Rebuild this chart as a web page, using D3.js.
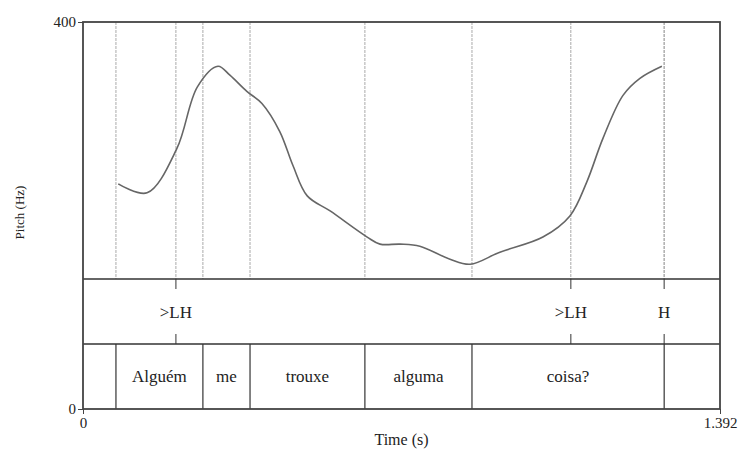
<!DOCTYPE html>
<html><head><meta charset="utf-8">
<script src="https://cdn.jsdelivr.net/npm/d3@7"></script>
<style>body{margin:0;background:#fff}svg{display:block}</style>
</head><body><svg id="c" width="745" height="453"></svg>
<script>
const totalDuration = 1.392;
const pitchRange = [0, 400];
// pitch contour (time s, Hz)
const pitchTimes = [0.077,0.140,0.205,0.250,0.295,0.321,0.358,0.391,0.430,0.459,0.490,0.540,0.621,0.649,0.693,0.736,0.802,0.846,0.911,1.005,1.064,1.101,1.136,1.180,1.217,1.265];
const pitchHz =    [232.7,223.4,269.1,333.0,354.3,345.0,328.3,315.8,286.8,251.4,220.3,204.7,177.7,170.4,170.4,168.3,154.8,149.6,162.1,177.7,199.5,234.8,279.5,324.2,341.8,354.3];
// tone tier points
const tonePointTimes = [0.203, 1.066, 1.270];
const toneLabels = [">LH", ">LH", "H"];
// word tier intervals
const wordBoundaries = [0, 0.072, 0.262, 0.365, 0.616, 0.850, 1.270, 1.392];
const wordLabels = ["", "Alguém", "me", "trouxe", "alguma", "coisa?", ""];

const FONT = "'Liberation Serif', 'DejaVu Serif', 'Times New Roman', serif";
const svg = d3.select("#c").attr("font-family", FONT);
const L = 83, R = 720, T = 22, B = 409;
const tier1Top = 279, tier2Top = 344;
const x = d3.scaleLinear().domain([0,totalDuration]).range([L,R]);
const y = d3.scaleLinear().domain(pitchRange).range([B,T]);

// dotted lines in pitch panel
const allMarks = wordBoundaries.slice(1,-1).concat(tonePointTimes);
svg.append("g").selectAll("line").data(allMarks).join("line")
  .attr("x1",d=>x(d)).attr("x2",d=>x(d)).attr("y1",T).attr("y2",tier1Top)
  .attr("stroke","#aaa").attr("stroke-width",1).attr("stroke-dasharray","3,1");

// pitch curve
const pts = pitchTimes.map((t,i)=>[t,pitchHz[i]]);
svg.append("path").datum(pts)
  .attr("d", d3.line().x(d=>x(d[0])).y(d=>y(d[1])).curve(d3.curveCatmullRom.alpha(0.5)))
  .attr("fill","none").attr("stroke","#666").attr("stroke-width",1.6);

// word tier boundaries
svg.append("g").selectAll("line").data(wordBoundaries.slice(1,-1)).join("line")
  .attr("x1",d=>x(d)).attr("x2",d=>x(d)).attr("y1",tier2Top).attr("y2",B)
  .attr("stroke","#333").attr("stroke-width",1.2);
// word labels
svg.append("g").selectAll("text").data(wordLabels.map((l,i)=>({l, m:(wordBoundaries[i]+wordBoundaries[i+1])/2}))).join("text")
  .attr("x",d=>x(d.m)).attr("y",(tier2Top+B)/2+5).attr("text-anchor","middle")
  .attr("font-family",FONT).attr("font-size",17).attr("fill","#222").text(d=>d.l);

// tone tier point ticks
const tg = svg.append("g");
tonePointTimes.forEach(t=>{
  tg.append("line").attr("x1",x(t)).attr("x2",x(t)).attr("y1",tier1Top).attr("y2",tier1Top+10).attr("stroke","#555").attr("stroke-width",1.2);
  tg.append("line").attr("x1",x(t)).attr("x2",x(t)).attr("y1",tier2Top-10).attr("y2",tier2Top).attr("stroke","#555").attr("stroke-width",1.2);
});
tg.selectAll("text").data(tonePointTimes).join("text")
  .attr("x",d=>x(d)).attr("y",(tier1Top+tier2Top)/2+6).attr("text-anchor","middle")
  .attr("font-family",FONT).attr("font-size",17).attr("fill","#222").text((d,i)=>toneLabels[i]);

// tier separators
[tier1Top, tier2Top].forEach(yy=>svg.append("line").attr("x1",L).attr("x2",R).attr("y1",yy).attr("y2",yy).attr("stroke","#333").attr("stroke-width",1.3));

// frame
svg.append("rect").attr("x",L).attr("y",T).attr("width",R-L).attr("height",B-T)
  .attr("fill","none").attr("stroke","#444").attr("stroke-width",1.8);

// axes
const ya = svg.append("g").attr("transform",`translate(${L},0)`)
  .call(d3.axisLeft(y).tickValues(pitchRange).tickSize(5).tickPadding(2));
ya.attr("font-family",FONT);
ya.select(".domain").remove();
ya.selectAll("text").attr("font-size",15).attr("fill","#222");
ya.selectAll("line").attr("stroke","#444");
const xa = svg.append("g").attr("transform",`translate(0,${B})`)
  .call(d3.axisBottom(x).tickValues([0,totalDuration]).tickFormat(d=>d===0?"0":"1.392").tickSize(5).tickPadding(3));
xa.attr("font-family",FONT);
xa.select(".domain").remove();
xa.selectAll("text").attr("font-size",15).attr("fill","#222");
xa.selectAll("line").attr("stroke","#444");

svg.append("text").attr("x",(L+R)/2).attr("y",445).attr("text-anchor","middle")
  .attr("font-family",FONT).attr("font-size",16).attr("fill","#222").text("Time (s)");
svg.append("text").attr("transform",`translate(24,${(T+tier1Top)/2+62}) rotate(-90)`).attr("text-anchor","middle")
  .attr("font-family",FONT).attr("font-size",13).attr("fill","#222").text("Pitch (Hz)");
</script></body></html>
